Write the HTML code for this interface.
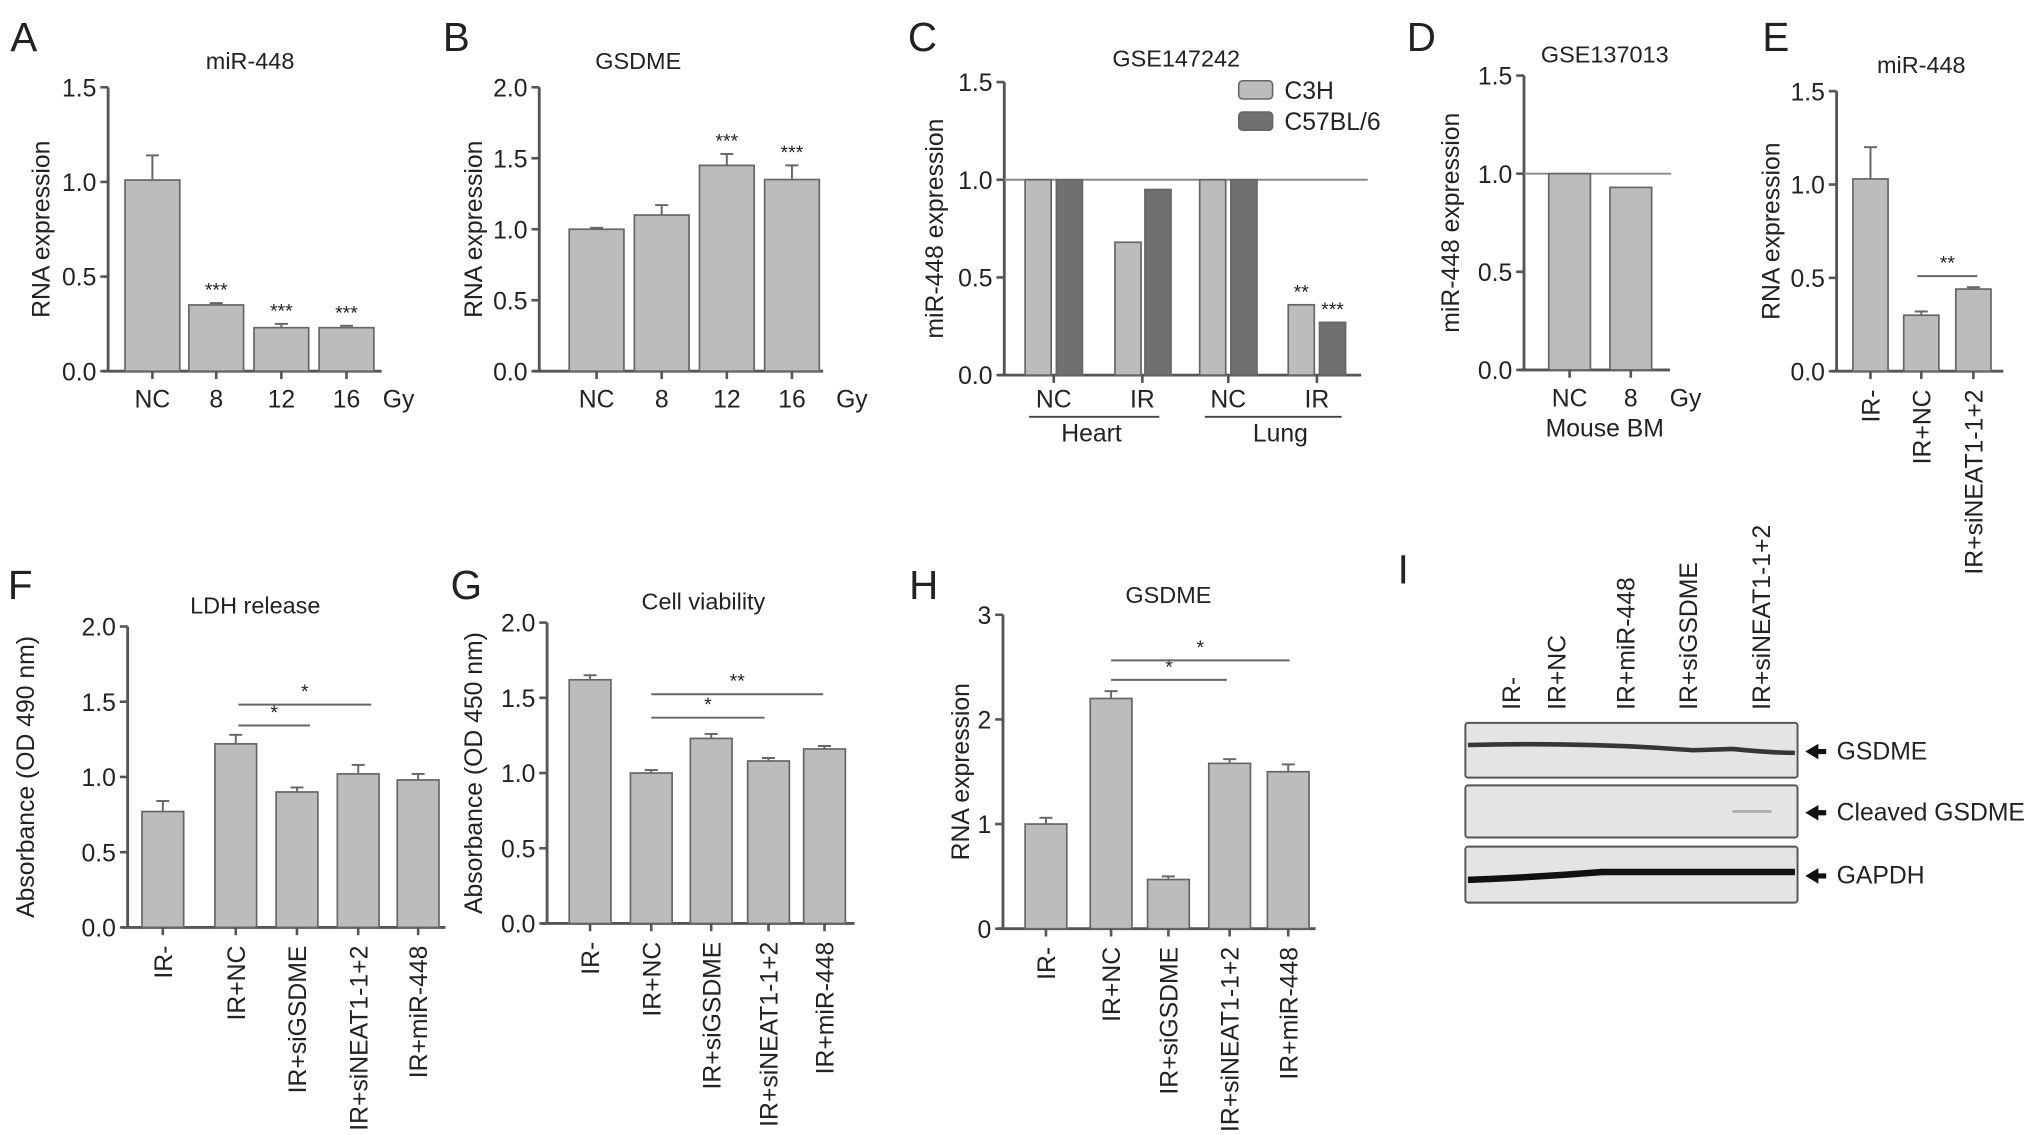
<!DOCTYPE html>
<html><head><meta charset="utf-8"><style>
html,body{margin:0;padding:0;background:#fff;}
svg{display:block;font-family:"Liberation Sans",Arial,sans-serif;}
</style></head><body>
<svg id="fig" width="2032" height="1135" viewBox="0 0 1560 871.4" preserveAspectRatio="none" xmlns="http://www.w3.org/2000/svg">
</svg>
<script>
const NS='http://www.w3.org/2000/svg';
const svg=document.getElementById('fig');
const FS=19, TFS=18;
function mk(tag,attrs,parent){const e=document.createElementNS(NS,tag);for(const k in attrs)e.setAttribute(k,attrs[k]);(parent||svg).appendChild(e);return e;}
function txt(x,y,s,size,parent,anchor,rot){const t=mk('text',{x:x,y:y,'font-size':size,'text-anchor':anchor||'middle',fill:'#222'},parent);if(rot)t.setAttribute('transform','rotate('+rot+' '+x+' '+y+')');t.textContent=s;return t;}

// ---- data ----
const aCats=['NC','8','12','16'];
const aVals=[1.01,0.35,0.23,0.23];
const aErr=[0.13,0.01,0.02,0.01];
const aSig=['','***','***','***'];
const aTicks=[0,0.5,1.0,1.5];

const bCats=['NC','8','12','16'];
const bVals=[1.0,1.1,1.45,1.35];
const bErr=[0.01,0.07,0.08,0.1];
const bSig=['','','***','***'];
const bTicks=[0,0.5,1.0,1.5,2.0];

const cGroups=['NC','IR','NC','IR'];
const cC3H=[1.0,0.68,1.0,0.36];
const cC57=[1.0,0.95,1.0,0.27];
const cSig3=['','','','**'];
const cSig5=['','','','***'];
const cTicks=[0,0.5,1.0,1.5];

const dCats=['NC','8'];
const dVals=[1.0,0.93];
const dTicks=[0,0.5,1.0,1.5];

const eCats=['IR-','IR+NC','IR+siNEAT1-1+2'];
const eVals=[1.03,0.30,0.44];
const eErr=[0.17,0.02,0.01];
const eTicks=[0,0.5,1.0,1.5];

const fCats=['IR-','IR+NC','IR+siGSDME','IR+siNEAT1-1+2','IR+miR-448'];
const fVals=[0.77,1.22,0.90,1.02,0.98];
const fErr=[0.07,0.06,0.03,0.06,0.04];
const fTicks=[0,0.5,1.0,1.5,2.0];

const gCats=['IR-','IR+NC','IR+siGSDME','IR+siNEAT1-1+2','IR+miR-448'];
const gVals=[1.62,1.0,1.23,1.08,1.16];
const gErr=[0.03,0.02,0.03,0.02,0.02];
const gTicks=[0,0.5,1.0,1.5,2.0];

const hCats=['IR-','IR+NC','IR+siGSDME','IR+siNEAT1-1+2','IR+miR-448'];
const hVals=[1.0,2.2,0.47,1.58,1.5];
const hErr=[0.06,0.07,0.03,0.04,0.07];
const hTicks=[0,1,2,3];

const LIGHT='#bcbcbc', DARK='#707070', AX='#555';

function panel(o){
  const g=mk('g',{},svg);
  
  
  const ymax=o.ticks[o.ticks.length-1];
  const y=v=>o.y0-(v/ymax)*(o.y0-o.ytop);
  const ax=mk('line',{x1:o.ax,x2:o.ax,y1:o.ytop,y2:o.y0,stroke:AX,'stroke-width':2.2},g);
  
  
  o.ticks.forEach(t=>{
    mk('line',{x1:o.ax-6,x2:o.ax,y1:y(t),y2:y(t),stroke:AX,'stroke-width':2},g);
    const tl=txt(o.ax-9,y(t)+7,o.tickFmt(t),FS,g,'end');
    
    
  });
  const xa=mk('line',{x1:o.ax-4,x2:o.axEnd,y1:o.y0,y2:o.y0,stroke:AX,'stroke-width':2.2},g);
  
  
  const yl=txt(o.ylx,(o.ytop+o.y0)/2,o.ylabel,FS,g,'middle',-90);
  
  
  if(o.title){const tt=txt(o.tx,o.ty,o.title,TFS,g);}
  const lt=txt(o.lx,o.ly,o.letter,31,g,'start');
  
  
  if(o.ref){mk('line',{x1:o.ax,x2:o.refEnd,y1:y(1),y2:y(1),stroke:'#888','stroke-width':1.5},g);}
  o.series.forEach(s=>{
    s.vals.forEach((v,i)=>{
      const cx=s.xs[i];
      const b=mk('rect',{x:cx-o.bw/2,y:y(v),width:o.bw,height:o.y0-y(v),fill:s.color,stroke:'#666','stroke-width':1.3},g);
      
      
      if(s.err){const e=s.err[i];mk('line',{x1:cx,x2:cx,y1:y(v),y2:y(v+e),stroke:'#666','stroke-width':1.5},g);mk('line',{x1:cx-5,x2:cx+5,y1:y(v+e),y2:y(v+e),stroke:'#666','stroke-width':1.5},g);}
      if(s.sig&&s.sig[i]){const st=txt(cx,y(v+(s.err?s.err[i]:0))-5,s.sig[i],15,g);}
    });
  });
  if(o.xticks)o.series[0].xs.forEach(cx=>mk('line',{x1:cx,x2:cx,y1:o.y0,y2:o.y0+6,stroke:AX,'stroke-width':2},g));
  if(o.cats){
    o.cats.forEach((c,i)=>{
      const cx=o.series[0].xs[i];
      let t;
      if(o.rot)t=txt(cx+7,o.y0+14,c,FS,g,'end',-90);
      else t=txt(cx,o.y0+28,c,FS,g);
      
      
    });
  }
  if(o.unit){const u=txt(o.unitX,o.y0+28,o.unit,FS,g);}
  (o.brackets||[]).forEach(br=>{
    mk('line',{x1:br[0],x2:br[1],y1:br[2],y2:br[2],stroke:'#666','stroke-width':1.5},g);
    const st=txt((br[0]+br[1])/2,br[2]-5,br[3],15,g);
    
    
  });
  return {g,y};
}
const f1=t=>t.toFixed(1), f0=t=>String(t);

panel({name:'panel-a',letter:'A',lx:8,ly:39,title:'miR-448',tx:192,ty:53,ax:83,ytop:67,y0:285,axEnd:293,ticks:aTicks,tickFmt:f1,ylabel:'RNA expression',ylx:38,bw:42,xticks:true,cats:aCats,unit:'Gy',unitX:306,
  series:[{xs:[117,166,216,266],vals:aVals,err:aErr,sig:aSig,color:LIGHT}]});
panel({name:'panel-b',letter:'B',lx:340,ly:39,title:'GSDME',tx:490,ty:53,ax:414,ytop:67,y0:285,axEnd:632,ticks:bTicks,tickFmt:f1,ylabel:'RNA expression',ylx:370,bw:42,xticks:true,cats:bCats,unit:'Gy',unitX:654,
  series:[{xs:[458,508,558,608],vals:bVals,err:bErr,sig:bSig,color:LIGHT}]});
const pc=panel({name:'panel-c',letter:'C',lx:697,ly:39,title:'GSE147242',tx:903,ty:51,ax:771,ytop:63,y0:288,axEnd:1045,ticks:cTicks,tickFmt:f1,ylabel:'miR-448 expression',ylx:724,bw:20,ref:true,refEnd:1050,
  series:[{xs:[797,866,931,999],vals:cC3H,sig:cSig3,color:LIGHT},{xs:[821,889,955,1023],vals:cC57,sig:cSig5,color:DARK}]});
cGroups.forEach((c,i)=>{const cx=[809,877,943,1011][i];mk('line',{x1:cx,x2:cx,y1:288,y2:294,stroke:AX,'stroke-width':2},pc.g);const t=txt(cx,313,c,FS,pc.g);});
mk('line',{x1:790,x2:890,y1:320,y2:320,stroke:'#444','stroke-width':1.5},pc.g);
mk('line',{x1:925,x2:1030,y1:320,y2:320,stroke:'#444','stroke-width':1.5},pc.g);
{let t=txt(838,339,'Heart',FS,pc.g);
t=txt(983,339,'Lung',FS,pc.g);}
[['C3H',LIGHT,69],['C57BL/6',DARK,93]].forEach(l=>{const lg=mk('g',{},pc.g);
 
 
 mk('rect',{x:951,y:l[2]-7,width:26,height:14,fill:l[1],stroke:'#666','stroke-width':1.2,rx:3},lg);txt(986,l[2]+7,l[0],FS,lg,'start');});

const pd=panel({name:'panel-d',letter:'D',lx:1080,ly:39,title:'GSE137013',tx:1232,ty:48,ax:1170,ytop:58,y0:284,axEnd:1282,ticks:dTicks,tickFmt:f1,ylabel:'miR-448 expression',ylx:1120,bw:32,ref:true,refEnd:1283,xticks:true,cats:dCats,unit:'Gy',unitX:1294,
  series:[{xs:[1205,1252],vals:dVals,color:LIGHT}]});
{const t=txt(1232,335,'Mouse BM',FS,pd.g);}

panel({name:'panel-e',letter:'E',lx:1353,ly:39,title:'miR-448',tx:1475,ty:56,ax:1410,ytop:70,y0:285,axEnd:1538,ticks:eTicks,tickFmt:f1,ylabel:'RNA expression',ylx:1366,bw:27,xticks:true,cats:eCats,rot:true,
  series:[{xs:[1436,1475,1515],vals:eVals,err:eErr,color:LIGHT}],brackets:[[1472,1518,212,'**']]});

panel({name:'panel-f',letter:'F',lx:6,ly:460,title:'LDH release',tx:196,ty:471,ax:98,ytop:481,y0:712,axEnd:342,ticks:fTicks,tickFmt:f1,ylabel:'Absorbance (OD 490 nm)',ylx:26,bw:32,xticks:true,cats:fCats,rot:true,
  series:[{xs:[125,181,228,275,321],vals:fVals,err:fErr,color:LIGHT}],brackets:[[183,238,557,'*'],[183,285,541,'*']]});
panel({name:'panel-g',letter:'G',lx:346,ly:460,title:'Cell viability',tx:540,ty:468,ax:420,ytop:478,y0:709,axEnd:656,ticks:gTicks,tickFmt:f1,ylabel:'Absorbance (OD 450 nm)',ylx:370,bw:32,xticks:true,cats:gCats,rot:true,
  series:[{xs:[453,500,546,590,633],vals:gVals,err:gErr,color:LIGHT}],brackets:[[500,587,551,'*'],[500,632,533,'**']]});
panel({name:'panel-h',letter:'H',lx:698,ly:460,title:'GSDME',tx:897,ty:463,ax:770,ytop:472,y0:713,axEnd:1010,ticks:hTicks,tickFmt:f0,ylabel:'RNA expression',ylx:744,bw:32,xticks:true,cats:hCats,rot:true,
  series:[{xs:[803,853,897,944,989],vals:hVals,err:hErr,color:LIGHT}],brackets:[[853,942,522,'*'],[853,990,507,'*']]});

// panel I: western blot
const gi=mk('g',{},svg);


{const t=txt(1073,448,'I',31,gi,'start');}
const laneLabels=['IR-','IR+NC','IR+miR-448','IR+siGSDME','IR+siNEAT1-1+2'];
const laneX=[1160,1195,1248,1296,1352];
laneLabels.forEach((l,i)=>{const t=txt(laneX[i]+7,545,l,FS,gi,'start',-90);});
const rows=[['GSDME',555,597],['Cleaved GSDME',603,643],['GAPDH',650,693]];
rows.forEach((r,i)=>{
  const rg=mk('g',{},gi);
  
  
  mk('rect',{x:1125,y:r[1],width:255,height:r[2]-r[1],fill:'#e4e4e4',stroke:'#555','stroke-width':1.5,rx:2},rg);
  const mid=(r[1]+r[2])/2;
  if(i===0){mk('path',{d:'M1127 '+(mid-4)+' Q1200 '+(mid-6)+' 1270 '+(mid-2)+' L1300 '+(mid)+' L1330 '+(mid-1)+' Q1360 '+(mid+2)+' 1378 '+(mid+2),stroke:'#222','stroke-width':3.5,fill:'none',opacity:0.9},rg);}
  if(i===1){mk('line',{x1:1330,x2:1360,y1:mid,y2:mid,stroke:'#aaa','stroke-width':2},rg);}
  if(i===2){mk('path',{d:'M1127 '+(mid+4)+' Q1180 '+(mid+2)+' 1230 '+(mid-2)+' L1378 '+(mid-2),stroke:'#111','stroke-width':5,fill:'none'},rg);}
  mk('path',{d:'M1386 '+(mid+1)+' l10 -6 v4 h6 v4 h-6 v4 z',fill:'#111'},rg);
  const t=txt(1410,mid+7,r[0],FS,rg,'start');
  
  
});
</script>
</body></html>
